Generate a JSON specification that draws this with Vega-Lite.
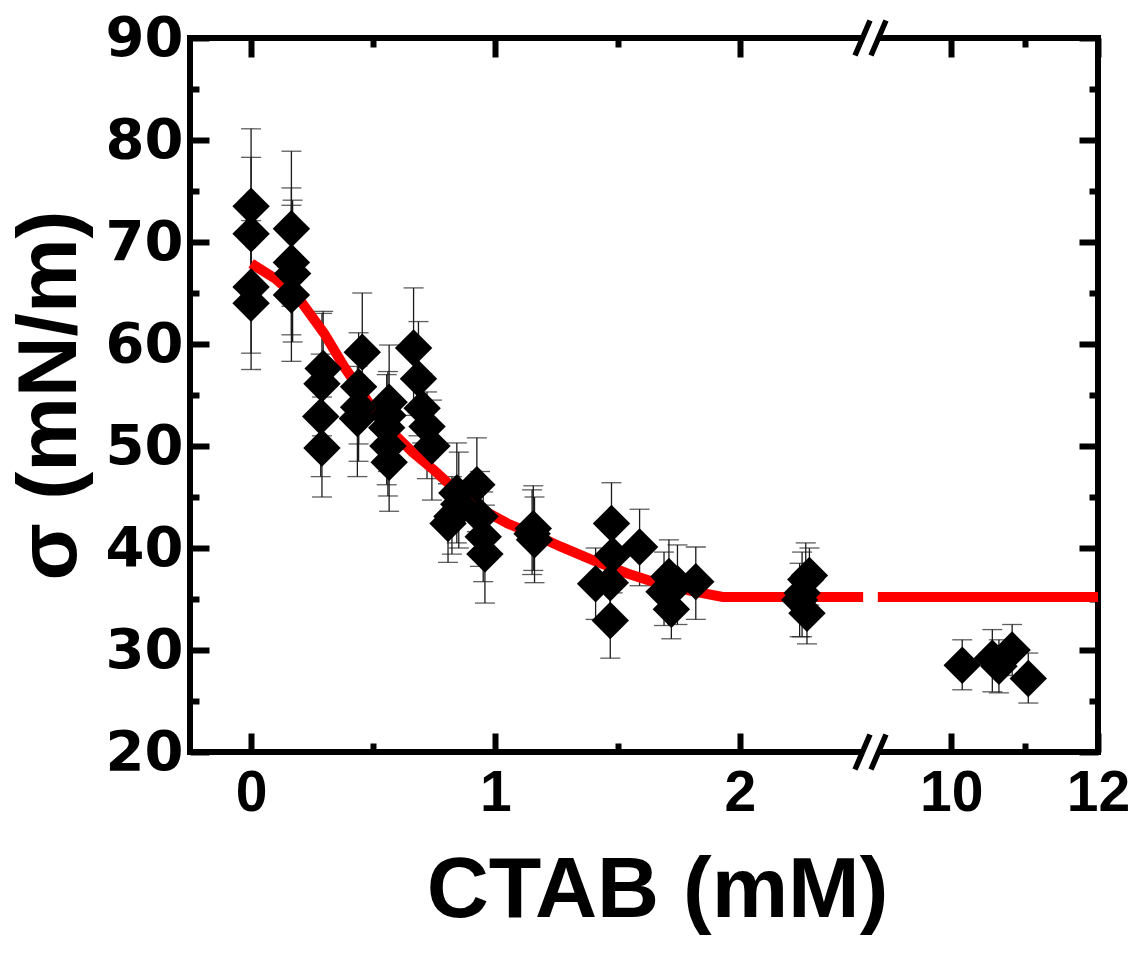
{
  "$schema": "https://vega.github.io/schema/vega-lite/v6.json",
  "autosize": "none",
  "padding": {"left": 190, "top": 38, "right": 34, "bottom": 203},
  "width": 908,
  "height": 714,
  "background": "white",
  "view": {"stroke": "black", "strokeWidth": 6},
  "datasets": {
    "points": [
      {"c": 0.0, "s": 73.5, "lo": 65.9, "hi": 81.1},
      {"c": 0.0, "s": 70.8, "lo": 63.3, "hi": 78.3},
      {"c": 0.0, "s": 65.6, "lo": 59.1, "hi": 72.1},
      {"c": 0.0, "s": 64.0, "lo": 57.5, "hi": 70.5},
      {"c": 0.165, "s": 71.3, "lo": 63.7, "hi": 78.9},
      {"c": 0.165, "s": 68.0, "lo": 60.9, "hi": 75.3},
      {"c": 0.17, "s": 66.9, "lo": 60.2, "hi": 74.1},
      {"c": 0.165, "s": 64.8, "lo": 58.3, "hi": 73.6},
      {"c": 0.295, "s": 57.6, "lo": 52.4, "hi": 63.2},
      {"c": 0.29, "s": 56.1, "lo": 51.0, "hi": 63.0},
      {"c": 0.285, "s": 52.9, "lo": 47.0, "hi": 59.0},
      {"c": 0.29, "s": 49.8, "lo": 45.0, "hi": 54.8},
      {"c": 0.455, "s": 59.2, "lo": 53.4, "hi": 65.0},
      {"c": 0.44, "s": 55.8, "lo": 50.2, "hi": 61.1},
      {"c": 0.44, "s": 53.8, "lo": 48.5, "hi": 59.5},
      {"c": 0.435, "s": 52.7, "lo": 47.0, "hi": 57.8},
      {"c": 0.565, "s": 54.3, "lo": 48.7, "hi": 59.9},
      {"c": 0.56, "s": 53.0, "lo": 47.5, "hi": 57.3},
      {"c": 0.555, "s": 51.8, "lo": 46.2, "hi": 57.0},
      {"c": 0.56, "s": 50.0, "lo": 45.1, "hi": 55.0},
      {"c": 0.565, "s": 48.4, "lo": 43.6, "hi": 53.3},
      {"c": 0.665, "s": 59.6, "lo": 53.0, "hi": 65.5},
      {"c": 0.685, "s": 56.6, "lo": 51.0, "hi": 62.2},
      {"c": 0.7, "s": 53.7, "lo": 50.3, "hi": 57.1},
      {"c": 0.72, "s": 51.9, "lo": 46.8, "hi": 55.3},
      {"c": 0.74, "s": 50.0, "lo": 44.7, "hi": 54.5},
      {"c": 0.806, "s": 42.4, "lo": 38.6, "hi": 46.3},
      {"c": 0.822, "s": 43.1, "lo": 39.4, "hi": 47.0},
      {"c": 0.842, "s": 45.4, "lo": 40.5, "hi": 50.3},
      {"c": 0.85, "s": 44.3, "lo": 40.0, "hi": 49.4},
      {"c": 0.924, "s": 46.2, "lo": 41.6, "hi": 50.8},
      {"c": 0.937, "s": 43.1, "lo": 38.2, "hi": 47.5},
      {"c": 0.95, "s": 41.1, "lo": 36.7, "hi": 45.5},
      {"c": 0.957, "s": 39.4, "lo": 34.6, "hi": 44.2},
      {"c": 1.155, "s": 41.9, "lo": 37.8, "hi": 46.1},
      {"c": 1.15, "s": 41.4, "lo": 37.4, "hi": 45.7},
      {"c": 1.16, "s": 40.8, "lo": 36.6, "hi": 45.0},
      {"c": 1.475, "s": 42.4, "lo": 38.4, "hi": 46.4},
      {"c": 1.59, "s": 40.1, "lo": 36.3, "hi": 43.8},
      {"c": 1.48, "s": 39.3, "lo": 35.6, "hi": 43.0},
      {"c": 1.41, "s": 36.5, "lo": 33.0, "hi": 40.0},
      {"c": 1.47, "s": 36.6, "lo": 33.3, "hi": 39.9},
      {"c": 1.47, "s": 32.9, "lo": 29.2, "hi": 36.6},
      {"c": 1.71, "s": 37.2, "lo": 33.5, "hi": 40.8},
      {"c": 1.69, "s": 35.7, "lo": 32.4, "hi": 39.6},
      {"c": 1.72, "s": 34.0, "lo": 31.1, "hi": 37.0},
      {"c": 1.745, "s": 36.5, "lo": 32.5, "hi": 40.3},
      {"c": 1.82, "s": 36.7, "lo": 33.0, "hi": 40.1},
      {"c": 2.27, "s": 36.9, "lo": 33.3, "hi": 40.5},
      {"c": 2.285, "s": 37.3, "lo": 34.4, "hi": 40.0},
      {"c": 2.255, "s": 35.6, "lo": 31.3, "hi": 39.6},
      {"c": 2.245, "s": 34.9, "lo": 31.3, "hi": 38.5},
      {"c": 2.275, "s": 33.6, "lo": 30.6, "hi": 36.8},
      {"c": 10.15, "s": 28.5, "lo": 26.1, "hi": 31.0},
      {"c": 10.56, "s": 29.2, "lo": 25.9, "hi": 32.0},
      {"c": 10.65, "s": 28.4, "lo": 25.8, "hi": 31.0},
      {"c": 10.83, "s": 30.0, "lo": 27.5, "hi": 32.5},
      {"c": 11.05, "s": 27.2, "lo": 24.8, "hi": 29.7}
    ],
    "fit": [
      {"seg": "a", "c": 0.0, "s": 67.9},
      {"seg": "a", "c": 0.1, "s": 66.4},
      {"seg": "a", "c": 0.2, "s": 64.3},
      {"seg": "a", "c": 0.3, "s": 61.0},
      {"seg": "a", "c": 0.38, "s": 57.8},
      {"seg": "a", "c": 0.5, "s": 53.6},
      {"seg": "a", "c": 0.58, "s": 51.3},
      {"seg": "a", "c": 0.66, "s": 49.4},
      {"seg": "a", "c": 0.75, "s": 47.6},
      {"seg": "a", "c": 0.85, "s": 45.4},
      {"seg": "a", "c": 0.95, "s": 43.7},
      {"seg": "a", "c": 1.05, "s": 42.4},
      {"seg": "a", "c": 1.16, "s": 41.3},
      {"seg": "a", "c": 1.27, "s": 40.1},
      {"seg": "a", "c": 1.4, "s": 38.8},
      {"seg": "a", "c": 1.54, "s": 37.5},
      {"seg": "a", "c": 1.67, "s": 36.5},
      {"seg": "a", "c": 1.8, "s": 35.8},
      {"seg": "a", "c": 1.93, "s": 35.2},
      {"seg": "a", "c": 2.505, "s": 35.2},
      {"seg": "b", "c": 9.0, "s": 35.2},
      {"seg": "b", "c": 12.0, "s": 35.2}
    ],
    "brk": [
      {"c": 2.535, "s": 20},
      {"c": 2.535, "s": 90}
    ]
  },
  "layer": [
    {
      "data": {"name": "points"},
      "mark": {"type": "rule", "color": "#1a1a1a", "strokeWidth": 1.3},
      "encoding": {
        "x": {
          "field": "c", "type": "quantitative",
          "scale": {"domain": [-0.25, 2.535, 8.9, 12], "range": [0, 680.5, 680.5, 908], "nice": false, "zero": false},
          "axis": {
            "orient": "bottom",
            "values": [0, 0.5, 1, 1.5, 2, 10, 11, 12],
            "labelExpr": "(datum.value == 0.5 || datum.value == 1.5 || datum.value == 11) ? '' : datum.label",
            "domain": false,
            "grid": false,
            "ticks": true,
            "tickColor": "black",
            "tickWidth": 6,
            "tickSize": {"condition": {"test": "datum.value == 0.5 || datum.value == 1.5 || datum.value == 11", "value": -9}, "value": -19},
            "labelFont": "Liberation Sans",
            "labelFontWeight": "bold",
            "labelFontSize": 57,
            "labelColor": "black",
            "labelPadding": 32,
            "labelFlush": false,
            "labelOverlap": false,
            "labelBound": false,
            "title": "CTAB (mM)",
            "titleFont": "Liberation Sans",
            "titleFontWeight": "bold",
            "titleFontSize": 86,
            "titleColor": "black",
            "titlePadding": 17,
            "titleX": 467
          }
        },
        "y": {
          "field": "lo", "type": "quantitative",
          "scale": {"domain": [20, 90], "nice": false, "zero": false},
          "axis": {
            "orient": "left",
            "values": [20, 25, 30, 35, 40, 45, 50, 55, 60, 65, 70, 75, 80, 85, 90],
            "labelExpr": "datum.value % 10 == 0 ? datum.label : ''",
            "domain": false,
            "grid": false,
            "tickColor": "black",
            "tickWidth": 6,
            "tickSize": {"condition": {"test": "datum.value % 10 != 0", "value": -9}, "value": -19},
            "labelFont": "DejaVu Sans",
            "labelFontWeight": "bold",
            "labelFontSize": 56,
            "labelColor": "black",
            "labelPadding": 26,
            "labelOverlap": false,
            "labelBound": false,
            "labelFlush": false,
            "title": "σ (mN/m)",
            "titleFont": "Liberation Sans",
            "titleFontWeight": "bold",
            "titleFontSize": 84,
            "titleColor": "black",
            "titlePadding": 12
          }
        },
        "y2": {"field": "hi"}
      }
    },
    {
      "data": {"name": "points"},
      "mark": {"type": "tick", "orient": "horizontal", "color": "#1a1a1a", "size": 20, "thickness": 1.3},
      "encoding": {
        "x": {"field": "c", "type": "quantitative", "scale": {"domain": [-0.25, 2.535, 8.9, 12], "range": [0, 680.5, 680.5, 908], "nice": false, "zero": false}, "axis": null},
        "y": {"field": "lo", "type": "quantitative", "scale": {"domain": [20, 90], "nice": false, "zero": false}, "axis": null}
      }
    },
    {
      "data": {"name": "points"},
      "mark": {"type": "tick", "orient": "horizontal", "color": "#1a1a1a", "size": 20, "thickness": 1.3},
      "encoding": {
        "x": {"field": "c", "type": "quantitative", "scale": {"domain": [-0.25, 2.535, 8.9, 12], "range": [0, 680.5, 680.5, 908], "nice": false, "zero": false}, "axis": null},
        "y": {"field": "hi", "type": "quantitative", "scale": {"domain": [20, 90], "nice": false, "zero": false}, "axis": null}
      }
    },
    {
      "data": {"name": "fit"},
      "mark": {"type": "line", "color": "#ff0000", "strokeWidth": 10, "strokeCap": "butt"},
      "encoding": {
        "x": {"field": "c", "type": "quantitative", "scale": {"domain": [-0.25, 2.535, 8.9, 12], "range": [0, 680.5, 680.5, 908], "nice": false, "zero": false}, "axis": null},
        "y": {"field": "s", "type": "quantitative", "scale": {"domain": [20, 90], "nice": false, "zero": false}, "axis": null},
        "detail": {"field": "seg", "type": "nominal"}
      }
    },
    {
      "data": {"name": "points"},
      "mark": {"type": "point", "shape": "diamond", "filled": true, "color": "black", "opacity": 1, "size": 1400},
      "encoding": {
        "x": {"field": "c", "type": "quantitative", "scale": {"domain": [-0.25, 2.535, 8.9, 12], "range": [0, 680.5, 680.5, 908], "nice": false, "zero": false}, "axis": null},
        "y": {"field": "s", "type": "quantitative", "scale": {"domain": [20, 90], "nice": false, "zero": false}, "axis": null}
      }
    },
    {
      "data": {"name": "brk"},
      "mark": {"type": "point", "shape": "M-0.571,0.4L-0.229,-0.4L0.571,-0.4L0.229,0.4Z", "filled": true, "color": "white", "opacity": 1, "size": 1600, "strokeWidth": 0},
      "encoding": {
        "x": {"field": "c", "type": "quantitative", "scale": {"domain": [-0.25, 2.535, 8.9, 12], "range": [0, 680.5, 680.5, 908], "nice": false, "zero": false}, "axis": null},
        "y": {"field": "s", "type": "quantitative", "scale": {"domain": [20, 90], "nice": false, "zero": false}, "axis": null}
      }
    },
    {
      "data": {"name": "brk"},
      "mark": {"type": "point", "shape": "M-0.775,0.875L-0.025,-0.875M0.025,0.875L0.775,-0.875", "filled": false, "color": "black", "opacity": 1, "size": 1600, "strokeWidth": 5.5, "strokeCap": "butt"},
      "encoding": {
        "x": {
          "field": "c", "type": "quantitative",
          "scale": {"domain": [-0.25, 2.535, 8.9, 12], "range": [0, 680.5, 680.5, 908], "nice": false, "zero": false},
          "axis": {
            "orient": "top",
            "values": [0, 0.5, 1, 1.5, 2, 10, 11, 12],
            "labels": false,
            "domain": false,
            "grid": false,
            "tickColor": "black",
            "tickWidth": 6,
            "tickSize": {"condition": {"test": "datum.value == 0.5 || datum.value == 1.5 || datum.value == 11", "value": -9}, "value": -19},
            "title": null
          }
        },
        "y": {
          "field": "s", "type": "quantitative",
          "scale": {"domain": [20, 90], "nice": false, "zero": false},
          "axis": {
            "orient": "right",
            "values": [20, 25, 30, 35, 40, 45, 50, 55, 60, 65, 70, 75, 80, 85, 90],
            "labels": false,
            "domain": false,
            "grid": false,
            "tickColor": "black",
            "tickWidth": 6,
            "tickSize": {"condition": {"test": "datum.value % 10 != 0", "value": -9}, "value": -19},
            "title": null
          }
        }
      }
    }
  ],
  "resolve": {"axis": {"x": "independent", "y": "independent"}}
}
